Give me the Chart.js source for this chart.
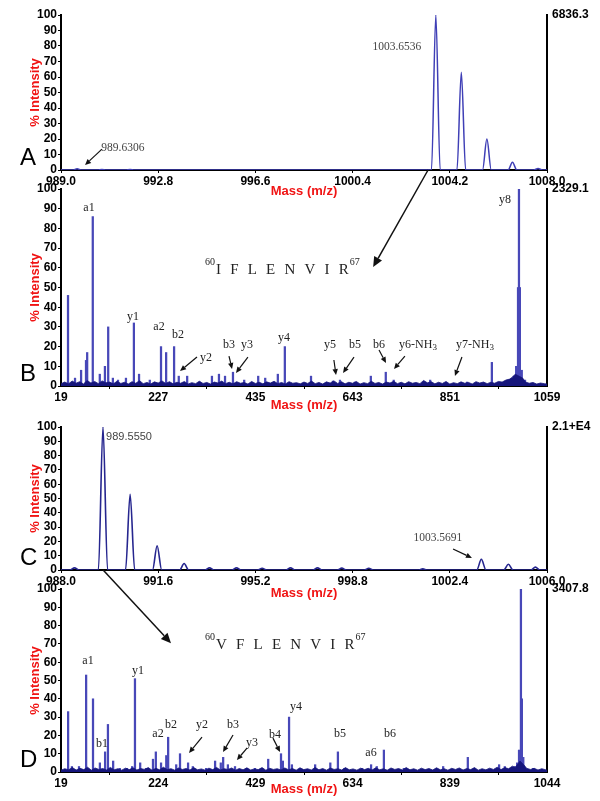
<!DOCTYPE html>
<html><head><meta charset="utf-8">
<script src="https://cdn.jsdelivr.net/npm/chart.js@4"></script>
<style>
html,body{margin:0;padding:0;background:#fff;width:600px;height:801px;overflow:hidden}
canvas{position:absolute;left:0}
</style></head><body>
<canvas id="cA" style="top:0px" width="600" height="200"></canvas>
<canvas id="cB" style="top:170px" width="600" height="244"></canvas>
<canvas id="cC" style="top:410px" width="600" height="192"></canvas>
<canvas id="cD" style="top:575px" width="600" height="223"></canvas>
<canvas id="ov" style="top:0px;pointer-events:none" width="600" height="801"></canvas>
<script>
// ---------------- DATA ----------------
const yTicks = [0,10,20,30,40,50,60,70,80,90,100];

// Panel A (MS, profile)
const ticksA = [989.0, 992.8, 996.6, 1000.4, 1004.2, 1008.0];
const tickLabelsA = ['989.0','992.8','996.6','1000.4','1004.2','1008.0'];
const mzA  = [989.63, 990.6, 991.7, 1003.6536, 1004.65, 1005.65, 1006.65, 1007.65];
const intA = [0.8, 0.4, 0.4, 100, 63, 20, 5, 1];
const rightLabelA = '6836.3';

// Panel B (MS/MS)
const ticksB = [19, 227, 435, 643, 851, 1059];
const tickLabelsB = ['19','227','435','643','851','1059'];
const mzB  = [34,49,62,72.5,75,87,102,113,120,130,141,158,175,186,209,233,244,261,271,289,316,342,357,370,387,411,441,456,483,498,554,601,616,648,682,714,731,809,888,941,980,988,993,997,999,1001,1005,1012];
const intB = [46,4,8,13,17,86,6,10,30,4,3,4,32,6,3,20,17,20,5,5,2,5,6,5,7,3,5,4,6,20,5,2.5,3,2,5,7,3,3,2,12,3,5,10,50,100,50,8,3];
const noiseB = [[19,1.2],[27,2.0],[35,1.1],[43,2.5],[51,1.4],[59,2.2],[67,1.0],[75,2.8],[83,1.5],[91,2.3],[99,1.2],[107,2.6],[115,1.6],[123,2.0],[131,1.1],[139,2.4],[147,1.3],[155,1.9],[163,1.0],[171,2.2],[179,1.4],[187,2.7],[195,1.2],[203,1.8],[211,1.0],[219,2.1],[227,1.5],[235,2.6],[243,1.3],[251,2.2],[259,1.1],[267,1.9],[275,1.4],[283,2.3],[291,1.0],[299,1.7],[307,1.2],[315,2.4],[323,1.3],[331,1.8],[339,1.0],[347,2.0],[355,1.5],[363,2.5],[371,1.2],[379,1.9],[387,1.1],[395,2.2],[403,1.4],[411,1.8],[419,1.0],[427,2.3],[435,1.3],[443,1.9],[451,1.1],[459,2.1],[467,1.5],[475,2.4],[483,1.2],[491,1.8],[499,1.0],[507,2.2],[515,1.4],[523,1.7],[531,1.1],[539,2.0],[547,1.3],[555,2.5],[563,1.2],[571,1.8],[579,1.0],[587,2.1],[595,1.5],[603,2.6],[611,1.3],[619,2.2],[627,1.1],[635,1.9],[643,1.4],[651,2.3],[659,1.0],[667,1.7],[675,1.2],[683,2.4],[691,1.3],[699,1.8],[707,1.0],[715,2.0],[723,1.5],[731,2.4],[739,1.2],[747,1.9],[755,1.1],[763,2.2],[771,1.4],[779,1.8],[787,1.2],[795,2.8],[803,1.6],[811,2.2],[819,1.1],[827,1.9],[835,1.3],[843,2.3],[851,1.0],[859,1.7],[867,1.2],[875,2.1],[883,1.4],[891,1.8],[899,1.0],[907,2.2],[915,1.5],[923,2.0],[931,1.2],[939,1.9],[947,1.4],[955,2.3],[963,2.0],[971,3.0],[979,3.5],[985,4.5],[991,6.0],[1007,4.0],[1013,2.0],[1021,1.4],[1029,1.8],[1037,1.0],[1045,1.5],[1053,1.2],[1059,1.0]];
const rightLabelB = '2329.1';

// Panel C (MS, profile)
const ticksC = [988.0, 991.6, 995.2, 998.8, 1002.4, 1006.0];
const tickLabelsC = ['988.0','991.6','995.2','998.8','1002.4','1006.0'];
const mzC  = [988.5, 989.555, 990.56, 991.56, 992.56, 993.5, 994.5, 995.45, 996.5, 997.5, 998.4, 999.4, 1001.4, 1003.5691, 1004.57, 1005.57];
const intC = [1.5, 100, 53, 17, 4.5, 1.5, 1.5, 1.2, 1.5, 1.5, 1.3, 1.2, 0.8, 7.5, 4, 2];
const rightLabelC = '2.1+E4';

// Panel D (MS/MS)
const ticksD = [19, 224, 429, 634, 839, 1044];
const tickLabelsD = ['19','224','429','634','839','1044'];
const mzD  = [34,42,57,72,86.5,101,112,118,129,143,158,169,175,186,198,213,219,230,241,245,262,270,287,297,325,344,356,361,371,386,411,428,443,456,483,487,500,506,555,587,603,617,654,673,685,700,742,825,877,943,955,966,976,981,985,989,991,994,1015];
const intD = [33,3,3,53,40,5,11,26,6,2,2,3,51,5,2,7,11,5,9,19,4,10,5,3,2,6,5,8,4,3,2,2,2,7,10,6,30,4,4,5,11,2,2,4,3,12,2,3,8,4,3,2,3,5,12,100,40,8,2];
const noiseD = [[19,1.0],[27,1.8],[35,1.2],[43,2.4],[51,1.1],[59,2.0],[67,1.3],[75,2.6],[83,1.0],[91,2.2],[99,1.4],[107,1.9],[115,1.1],[123,2.5],[131,1.2],[139,1.8],[147,1.0],[155,2.1],[163,1.3],[171,2.3],[179,1.1],[187,1.9],[195,1.4],[203,2.4],[211,1.0],[219,2.0],[227,1.2],[235,2.6],[243,1.3],[251,1.8],[259,1.0],[267,2.2],[275,1.4],[283,1.9],[291,1.1],[299,2.4],[307,1.2],[315,1.7],[323,1.0],[331,2.1],[339,1.3],[347,2.5],[355,1.1],[363,1.8],[371,1.4],[379,2.2],[387,1.0],[395,1.9],[403,1.2],[411,2.3],[419,1.1],[427,1.7],[435,1.3],[443,2.4],[451,1.0],[459,2.0],[467,1.4],[475,1.8],[483,1.1],[491,2.2],[499,1.2],[507,1.9],[515,1.0],[523,2.3],[531,1.3],[539,1.8],[547,1.1],[555,2.5],[563,1.2],[571,1.9],[579,1.0],[587,2.2],[595,1.4],[603,1.8],[611,1.1],[619,2.4],[627,1.2],[635,1.7],[643,1.0],[651,2.1],[659,1.3],[667,2.0],[675,1.1],[683,2.3],[691,1.2],[699,1.8],[707,1.0],[715,2.2],[723,1.4],[731,1.9],[739,1.1],[747,2.4],[755,1.2],[763,1.8],[771,1.0],[779,2.1],[787,1.3],[795,1.9],[803,1.1],[811,2.3],[819,1.2],[827,1.8],[835,1.0],[843,2.0],[851,1.4],[859,2.2],[867,1.1],[875,1.9],[883,1.3],[891,2.4],[899,1.0],[907,1.8],[915,1.2],[923,2.1],[931,1.4],[939,2.6],[947,1.3],[955,2.4],[963,1.8],[971,3.2],[977,2.5],[983,4.5],[987,6],[995,4],[1001,2],[1009,1.4],[1017,2.0],[1025,1.1],[1033,1.8],[1044,1.0]];
const rightLabelD = '3407.8';

// ---------------- STYLE / HELPERS ----------------
const SANS = '"Liberation Sans", Arial, sans-serif';
const SERIF = '"Liberation Serif", "Times New Roman", serif';
const RED = '#f01414';
const PEAK = '#4848b8';
const NAVY = '#16167c';

function arrow(ctx, x1, y1, x2, y2, head, lw){
  head = head || 7; lw = lw || 1.3;
  ctx.save(); ctx.strokeStyle = '#111'; ctx.fillStyle = '#111'; ctx.lineWidth = lw;
  const a = Math.atan2(y2 - y1, x2 - x1);
  const bx = x2 - head * Math.cos(a), by = y2 - head * Math.sin(a);
  const hw = head * 0.45;
  ctx.beginPath(); ctx.moveTo(x1, y1); ctx.lineTo(bx, by); ctx.stroke();
  ctx.beginPath(); ctx.moveTo(x2, y2);
  ctx.lineTo(bx + hw * Math.sin(a), by - hw * Math.cos(a));
  ctx.lineTo(bx - hw * Math.sin(a), by + hw * Math.cos(a));
  ctx.closePath(); ctx.fill(); ctx.restore();
}
function label(ctx, text, x, y, font, size, color){
  const parts = text.split('_');
  const main = parts[0], sub = parts[1];
  ctx.font = size + 'px ' + font;
  const wm = ctx.measureText(main).width;
  let ws = 0;
  if (sub){ ctx.font = (size * 0.75) + 'px ' + font; ws = ctx.measureText(sub).width; }
  const x0 = x - (wm + ws) / 2;
  ctx.fillStyle = color; ctx.textBaseline = 'middle'; ctx.textAlign = 'left';
  ctx.font = size + 'px ' + font; ctx.fillText(main, x0, y);
  if (sub){ ctx.font = (size * 0.75) + 'px ' + font; ctx.fillText(sub, x0 + wm, y + 3); }
}
function peptide(ctx, x, base, pre, seq, post){
  ctx.save(); ctx.fillStyle = '#222'; ctx.textBaseline = 'alphabetic'; ctx.textAlign = 'left';
  ctx.font = '10px ' + SERIF; ctx.fillText(pre, x, base - 9);
  let cx = x + ctx.measureText(pre).width + 1;
  ctx.font = '15px ' + SERIF;
  seq.split('').forEach((L, i) => {
    ctx.fillText(L, cx, base);
    cx += ctx.measureText(L).width + (i < seq.length - 1 ? 9.2 : 1);
  });
  ctx.font = '10px ' + SERIF; ctx.fillText(post, cx, base - 9);
  ctx.restore();
}
function annotPlugin(cfg){
  return { id: 'annot' + cfg.letter, afterDraw(chart){
    const ctx = chart.ctx, xs = chart.scales.x, ys = chart.scales.y;
    const px = v => xs.getPixelForValue(v), py = v => ys.getPixelForValue(v);
    ctx.save();
    ctx.font = '24px ' + SANS; ctx.fillStyle = '#000'; ctx.textAlign = 'left'; ctx.textBaseline = 'alphabetic';
    ctx.fillText(cfg.letter, 20, py(0) - 5);
    (cfg.labels || []).forEach(l => label(ctx, l.t, px(l.x), py(l.y), l.font || SERIF, l.size || 12, l.color || '#222'));
    (cfg.arrows || []).forEach(a => arrow(ctx, px(a[0]), py(a[1]), px(a[2]), py(a[3]), 6, 1.2));
    if (cfg.pep) peptide(ctx, px(cfg.pep.x), py(cfg.pep.y), cfg.pep.pre, cfg.pep.seq, cfg.pep.post);
    ctx.restore();
  }};
}
function profile(mz, inten, xmin, xmax, w){
  const pts = [{x: xmin, y: 0}];
  mz.forEach((m, i) => { pts.push({x: m - w, y: 0}, {x: m, y: inten[i]}, {x: m + w, y: 0}); });
  pts.push({x: xmax, y: 0});
  return pts;
}
function sticks(mz, inten){ return mz.map((m, i) => ({x: m, y: inten[i]})); }
function pairs(arr){ return arr.map(p => ({x: p[0], y: p[1]})); }

function makeChart(id, o){
  return new Chart(document.getElementById(id), {
    type: o.type,
    data: { datasets: o.datasets },
    options: {
      responsive: false, maintainAspectRatio: false, animation: false, events: [],
      layout: { padding: { left: 24, right: 0, top: o.padTop, bottom: 0 } },
      plugins: { legend: { display: false }, tooltip: { enabled: false } },
      scales: {
        x: { type: 'linear', min: o.xmin, max: o.xmax, offset: false, position: 'bottom',
          afterBuildTicks: s => { s.ticks = o.xticks.map(v => ({value: v})); },
          afterFit: s => { s.height = o.xh; },
          ticks: { autoSkip: false, maxRotation: 0, minRotation: 0, padding: 1, color: '#000',
                   font: { family: SANS, size: 12, weight: 'bold' }, callback: (v, i) => o.xlabels[i] },
          grid: { drawOnChartArea: false, drawTicks: true, tickLength: 3, color: '#000' },
          border: { display: true, color: '#000', width: 2 },
          title: { display: true, text: 'Mass (m/z)', color: RED, font: { family: SANS, size: 13, weight: 'bold' }, padding: { top: 0, bottom: 1 } } },
        y: { type: 'linear', min: 0, max: 100, position: 'left',
          afterBuildTicks: s => { s.ticks = yTicks.map(v => ({value: v})); },
          afterFit: s => { s.width = 37; },
          ticks: { autoSkip: false, padding: 1, color: '#000', font: { family: SANS, size: 12, weight: 'bold' }, callback: v => String(v) },
          grid: { drawOnChartArea: false, drawTicks: true, tickLength: 3, color: '#000' },
          border: { display: true, color: '#000', width: 2 },
          title: { display: true, text: '% Intensity', color: RED, font: { family: SANS, size: 13, weight: 'bold' }, padding: { top: 4, bottom: 0 } } },
        y2: { type: 'linear', min: 0, max: 100, position: 'right',
          afterBuildTicks: s => { s.ticks = [{value: 100}]; },
          afterFit: s => { s.width = 53; },
          ticks: { autoSkip: false, padding: 5, color: '#000', font: { family: SANS, size: 12, weight: 'bold' }, callback: () => o.right },
          grid: { display: false, drawTicks: false, drawOnChartArea: false },
          border: { display: true, color: '#000', width: 2 } }
      }
    },
    plugins: [annotPlugin(o.annot)]
  });
}

// ---------------- CHARTS ----------------
const chartA = makeChart('cA', {
  type: 'line', padTop: 15, xh: 30, xmin: 989, xmax: 1008, xticks: ticksA, xlabels: tickLabelsA, right: rightLabelA,
  datasets: [{ data: profile(mzA, intA, 989, 1008, 0.17), xAxisID: 'x', yAxisID: 'y',
    borderColor: '#3f3fb6', borderWidth: 1.5, pointRadius: 0, cubicInterpolationMode: 'monotone', fill: false }],
  annot: { letter: 'A',
    labels: [ {t: '989.6306', x: 991.42, y: 14.2, size: 11.5, color: '#444'},
              {t: '1003.6536', x: 1002.13, y: 79.4, size: 11.5, color: '#444'} ],
    arrows: [ [990.6, 13.5, 989.94, 3.2] ] }
});

const chartB = makeChart('cB', {
  type: 'bar', padTop: 19, xh: 28, xmin: 19, xmax: 1059, xticks: ticksB, xlabels: tickLabelsB, right: rightLabelB,
  datasets: [
    { type: 'bar', data: sticks(mzB, intB), xAxisID: 'x', yAxisID: 'y', backgroundColor: PEAK,
      barThickness: 1.6, grouped: false, borderWidth: 0, order: 2 },
    { type: 'line', data: pairs(noiseB), xAxisID: 'x', yAxisID: 'y', borderColor: NAVY, backgroundColor: NAVY,
      borderWidth: 0.8, pointRadius: 0, tension: 0, fill: 'origin', order: 1 }
  ],
  annot: { letter: 'B',
    labels: [ {t:'a1',x:78.9,y:90.4},{t:'y1',x:173,y:35},{t:'a2',x:228.7,y:30},{t:'b2',x:269.4,y:25.9},
              {t:'y2',x:329.3,y:14.2},{t:'b3',x:378.5,y:20.8},{t:'y3',x:417,y:20.8},{t:'y4',x:496,y:24.4},
              {t:'y5',x:594.6,y:20.8},{t:'b5',x:648,y:20.8},{t:'b6',x:699.5,y:20.8},
              {t:'y6-NH_3',x:783,y:20.8},{t:'y7-NH_3',x:905,y:20.8},{t:'y8',x:969,y:94.4} ],
    arrows: [ [310,14.7,273.7,7.6],[378.5,15.2,385,8.6],[419,14.7,393.5,6.6],[603,13.2,607.5,5.6],
              [646,14.7,622.5,6.6],[699.5,18.3,714.5,11.7],[755,15.2,731.6,8.6],[877,14.7,862,5.1] ],
    pep: { x: 327, y: 56.9, pre: '60', seq: 'IFLENVIR', post: '67' } }
});

const chartC = makeChart('cC', {
  type: 'line', padTop: 17, xh: 32, xmin: 988, xmax: 1006, xticks: ticksC, xlabels: tickLabelsC, right: rightLabelC,
  datasets: [{ data: profile(mzC, intC, 988, 1006, 0.17), xAxisID: 'x', yAxisID: 'y',
    borderColor: '#26268f', borderWidth: 1.6, pointRadius: 0, cubicInterpolationMode: 'monotone', fill: false }],
  annot: { letter: 'C',
    labels: [ {t: '989.5550', x: 990.52, y: 93, size: 11, color: '#444', font: SANS},
              {t: '1003.5691', x: 1001.96, y: 22.4, size: 11.5, color: '#444'} ],
    arrows: [ [1002.52, 14.7, 1003.22, 8.4] ] }
});

const chartD = makeChart('cD', {
  type: 'bar', padTop: 14, xh: 26, xmin: 19, xmax: 1044, xticks: ticksD, xlabels: tickLabelsD, right: rightLabelD,
  datasets: [
    { type: 'bar', data: sticks(mzD, intD), xAxisID: 'x', yAxisID: 'y', backgroundColor: PEAK,
      barThickness: 1.6, grouped: false, borderWidth: 0, order: 2 },
    { type: 'line', data: pairs(noiseD), xAxisID: 'x', yAxisID: 'y', borderColor: NAVY, backgroundColor: NAVY,
      borderWidth: 0.8, pointRadius: 0, tension: 0, fill: 'origin', order: 1 }
  ],
  annot: { letter: 'D',
    labels: [ {t:'a1',x:76,y:60.6},{t:'b1',x:105.5,y:15.3},{t:'y1',x:181.4,y:55.1},{t:'a2',x:223.6,y:20.7},
              {t:'b2',x:251,y:25.6},{t:'y2',x:316.4,y:25.6},{t:'b3',x:381.8,y:25.6},{t:'y3',x:421.8,y:15.8},
              {t:'b4',x:470.3,y:20.2},{t:'y4',x:514.6,y:35.5},{t:'b5',x:607.4,y:20.7},{t:'a6',x:672.8,y:10.4},
              {t:'b6',x:712.9,y:20.7} ],
    arrows: [ [316.4,19.1,289,10.4],[381.8,20.2,360.7,10.9],[411.3,13.1,390,6.5],[466,18.5,481,10.9] ],
    pep: { x: 322.7, y: 67.1, pre: '60', seq: 'VFLENVIR', post: '67' } }
});

// ---------------- CROSS-PANEL ARROWS ----------------
(function(){
  const ov = document.getElementById('ov').getContext('2d');
  const top = id => parseFloat(document.getElementById(id).style.top);
  const pt = (chart, id, xv, yv) => [chart.scales.x.getPixelForValue(xv), top(id) + chart.scales.y.getPixelForValue(yv)];
  const a1 = pt(chartA, 'cA', 1003.35, 0), a2 = pt(chartB, 'cB', 687, 60.4);
  arrow(ov, a1[0], a1[1], a2[0], a2[1], 10, 1.5);
  const c1 = pt(chartC, 'cC', 989.56, 0), c2 = pt(chartD, 'cD', 251, 70.4);
  arrow(ov, c1[0], c1[1], c2[0], c2[1], 10, 1.5);
})();
</script>
</body></html>
